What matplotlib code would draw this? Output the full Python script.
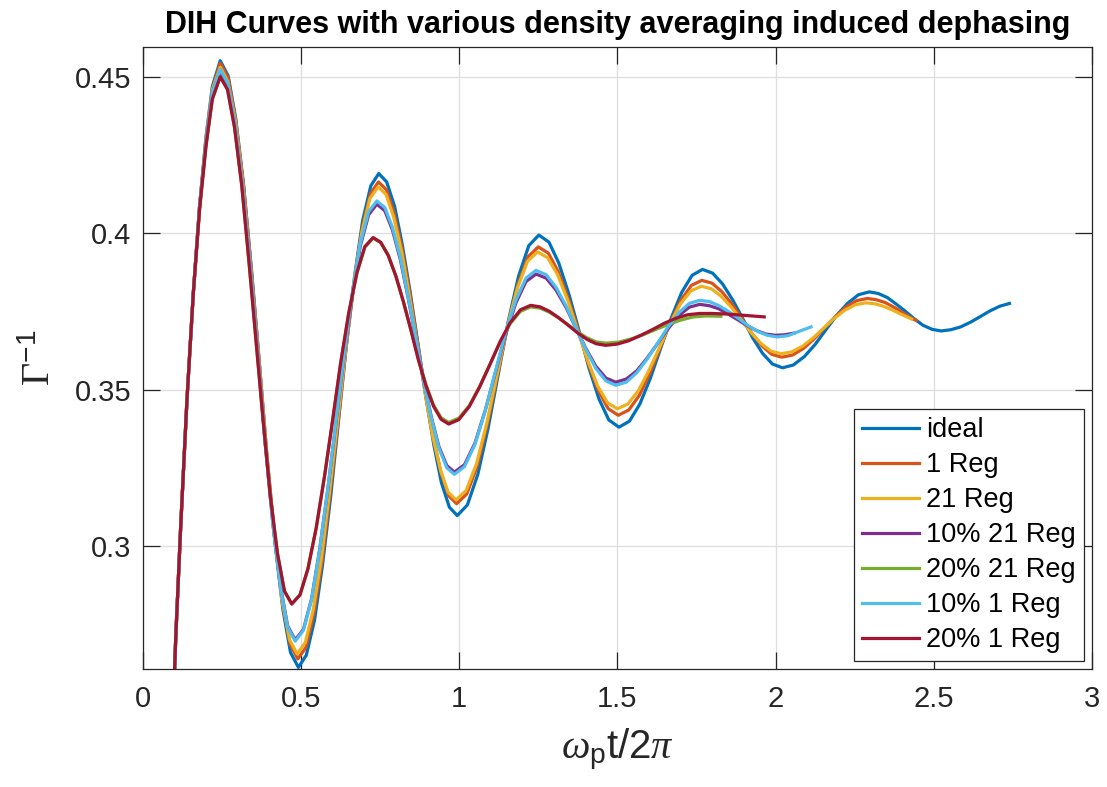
import matplotlib
matplotlib.use("Agg")
import matplotlib.pyplot as plt
from matplotlib.ticker import FuncFormatter

plt.rcParams['font.family'] = ['Liberation Sans', 'DejaVu Sans']
plt.rcParams['mathtext.fontset'] = 'custom'
plt.rcParams['mathtext.rm'] = 'Liberation Serif'
plt.rcParams['mathtext.sf'] = 'Liberation Sans'
plt.rcParams['mathtext.it'] = 'Liberation Serif:italic'

# values
ideal_x = [0.095, 0.105, 0.12, 0.14, 0.16, 0.18, 0.20, 0.22,
           0.245, 0.270, 0.294, 0.319, 0.344, 0.369, 0.393, 0.418, 0.443, 0.467, 0.492,
           0.517, 0.543, 0.568, 0.594, 0.619, 0.644, 0.670, 0.695, 0.721, 0.746,
           0.771, 0.796, 0.820, 0.845, 0.870, 0.895, 0.920, 0.944, 0.969, 0.994,
           1.026, 1.059, 1.091, 1.123, 1.155, 1.188, 1.220, 1.252,
           1.284, 1.315, 1.347, 1.379, 1.410, 1.442, 1.473, 1.505,
           1.538, 1.571, 1.604, 1.637, 1.670, 1.703, 1.736, 1.769,
           1.801, 1.832, 1.864, 1.896, 1.927, 1.959, 1.990, 2.022,
           2.056, 2.091, 2.125, 2.159, 2.193, 2.228, 2.262, 2.296,
           2.324, 2.353, 2.381, 2.410, 2.438, 2.466, 2.495, 2.523,
           2.554, 2.585, 2.616, 2.647, 2.677, 2.708, 2.739]
ideal_y = [0.245, 0.272, 0.306, 0.347, 0.381, 0.409, 0.431, 0.447,
           0.4553, 0.4505, 0.4368, 0.4153, 0.3882, 0.3582, 0.3282, 0.3011, 0.2797, 0.2659, 0.2611,
           0.2650, 0.2762, 0.2937, 0.3157, 0.3402, 0.3646, 0.3866, 0.4041, 0.4153, 0.4192,
           0.4165, 0.4087, 0.3966, 0.3814, 0.3645, 0.3475, 0.3323, 0.3202, 0.3124, 0.3097,
           0.3131, 0.3229, 0.3374, 0.3546, 0.3718, 0.3864, 0.3961, 0.3995,
           0.3972, 0.3905, 0.3805, 0.3688, 0.3570, 0.3470, 0.3403, 0.3380,
           0.3399, 0.3454, 0.3536, 0.3633, 0.3729, 0.3811, 0.3866, 0.3885,
           0.3873, 0.3839, 0.3788, 0.3728, 0.3667, 0.3616, 0.3582, 0.3570,
           0.3579, 0.3606, 0.3645, 0.3692, 0.3738, 0.3777, 0.3804, 0.3813,
           0.3808, 0.3795, 0.3774, 0.3751, 0.3727, 0.3706, 0.3693, 0.3688,
           0.3692, 0.3701, 0.3716, 0.3734, 0.3752, 0.3767, 0.3776]

reg1_x = [0.095, 0.105, 0.12, 0.14, 0.16, 0.18, 0.20, 0.22,
          0.245, 0.270, 0.294, 0.319, 0.343, 0.368, 0.392, 0.417, 0.441, 0.466, 0.490,
          0.516, 0.541, 0.567, 0.592, 0.618, 0.643, 0.669, 0.694, 0.720, 0.745,
          0.770, 0.794, 0.819, 0.844, 0.869, 0.893, 0.918, 0.943, 0.967, 0.992,
          1.024, 1.057, 1.089, 1.121, 1.153, 1.186, 1.218, 1.250,
          1.282, 1.313, 1.345, 1.377, 1.408, 1.440, 1.471, 1.503,
          1.536, 1.569, 1.602, 1.635, 1.668, 1.701, 1.734, 1.767,
          1.799, 1.830, 1.862, 1.894, 1.925, 1.957, 1.988, 2.020,
          2.054, 2.088, 2.121, 2.155, 2.189, 2.223, 2.256, 2.290,
          2.318, 2.346, 2.374, 2.403, 2.431, 2.444]
reg1_y = [0.245, 0.272, 0.306, 0.347, 0.381, 0.409, 0.430, 0.446,
          0.4545, 0.4498, 0.4363, 0.4152, 0.3886, 0.3592, 0.3297, 0.3031, 0.2820, 0.2685, 0.2638,
          0.2675, 0.2784, 0.2953, 0.3166, 0.3402, 0.3637, 0.3850, 0.4019, 0.4128, 0.4165,
          0.4140, 0.4067, 0.3953, 0.3809, 0.3650, 0.3491, 0.3347, 0.3233, 0.3160, 0.3135,
          0.3166, 0.3255, 0.3389, 0.3546, 0.3703, 0.3837, 0.3926, 0.3957,
          0.3937, 0.3878, 0.3791, 0.3688, 0.3584, 0.3497, 0.3439, 0.3418,
          0.3435, 0.3481, 0.3551, 0.3634, 0.3717, 0.3787, 0.3834, 0.3850,
          0.3841, 0.3814, 0.3774, 0.3727, 0.3680, 0.3640, 0.3613, 0.3604,
          0.3611, 0.3632, 0.3662, 0.3698, 0.3734, 0.3765, 0.3785, 0.3792,
          0.3788, 0.3779, 0.3764, 0.3746, 0.3728, 0.3722]

reg21_x = [0.095, 0.105, 0.12, 0.14, 0.16, 0.18, 0.20, 0.22,
           0.245, 0.269, 0.294, 0.318, 0.342, 0.367, 0.391, 0.415, 0.439, 0.464, 0.488,
           0.514, 0.539, 0.565, 0.590, 0.616, 0.642, 0.667, 0.693, 0.718, 0.744,
           0.769, 0.793, 0.818, 0.842, 0.867, 0.892, 0.916, 0.941, 0.965, 0.990,
           1.022, 1.055, 1.087, 1.119, 1.151, 1.184, 1.216, 1.248,
           1.280, 1.311, 1.343, 1.374, 1.406, 1.437, 1.469, 1.500,
           1.533, 1.566, 1.599, 1.633, 1.666, 1.699, 1.732, 1.765,
           1.797, 1.828, 1.860, 1.892, 1.923, 1.955, 1.986, 2.018,
           2.051, 2.085, 2.118, 2.152, 2.185, 2.218, 2.252, 2.285,
           2.313, 2.341, 2.369, 2.398, 2.430]
reg21_y = [0.245, 0.272, 0.306, 0.347, 0.381, 0.409, 0.430, 0.446,
           0.4532, 0.4486, 0.4353, 0.4145, 0.3883, 0.3593, 0.3303, 0.3041, 0.2833, 0.2700, 0.2654,
           0.2691, 0.2797, 0.2962, 0.3171, 0.3402, 0.3633, 0.3841, 0.4006, 0.4112, 0.4149,
           0.4125, 0.4053, 0.3943, 0.3803, 0.3648, 0.3493, 0.3354, 0.3243, 0.3172, 0.3147,
           0.3177, 0.3263, 0.3392, 0.3544, 0.3696, 0.3825, 0.3911, 0.3941,
           0.3922, 0.3868, 0.3786, 0.3690, 0.3594, 0.3513, 0.3458, 0.3439,
           0.3454, 0.3496, 0.3560, 0.3635, 0.3710, 0.3774, 0.3816, 0.3831,
           0.3823, 0.3799, 0.3764, 0.3723, 0.3682, 0.3647, 0.3623, 0.3615,
           0.3621, 0.3639, 0.3665, 0.3697, 0.3728, 0.3754, 0.3772, 0.3778,
           0.3775, 0.3767, 0.3755, 0.3741, 0.3726]

p10_21_x = [0.095, 0.105, 0.12, 0.14, 0.16, 0.18, 0.20, 0.22,
            0.245, 0.269, 0.292, 0.316, 0.340, 0.364, 0.387, 0.411, 0.435, 0.458, 0.482,
            0.508, 0.534, 0.559, 0.585, 0.611, 0.637, 0.663, 0.688, 0.714, 0.740,
            0.765, 0.789, 0.814, 0.838, 0.863, 0.887, 0.912, 0.936, 0.961, 0.985,
            1.017, 1.050, 1.082, 1.114, 1.146, 1.179, 1.211, 1.243,
            1.275, 1.306, 1.338, 1.369, 1.401, 1.432, 1.464, 1.495,
            1.528, 1.561, 1.594, 1.628, 1.661, 1.694, 1.727, 1.760,
            1.790, 1.820, 1.850, 1.880, 1.910, 1.940, 1.970, 2.000,
            2.030, 2.058]
p10_21_y = [0.245, 0.272, 0.306, 0.347, 0.381, 0.409, 0.429, 0.445,
            0.4521, 0.4476, 0.4347, 0.4146, 0.3892, 0.3610, 0.3329, 0.3075, 0.2873, 0.2744, 0.2699,
            0.2733, 0.2832, 0.2987, 0.3181, 0.3397, 0.3612, 0.3807, 0.3961, 0.4060, 0.4094,
            0.4073, 0.4012, 0.3917, 0.3798, 0.3665, 0.3532, 0.3413, 0.3318, 0.3257, 0.3236,
            0.3260, 0.3329, 0.3432, 0.3553, 0.3674, 0.3777, 0.3846, 0.3870,
            0.3857, 0.3819, 0.3763, 0.3697, 0.3631, 0.3575, 0.3537, 0.3524,
            0.3534, 0.3560, 0.3601, 0.3649, 0.3696, 0.3737, 0.3764, 0.3773,
            0.3769, 0.3759, 0.3742, 0.3724, 0.3705, 0.3689, 0.3678, 0.3674,
            0.3676, 0.3681]

p20_21_x = [0.095, 0.105, 0.12, 0.14, 0.16, 0.18, 0.20, 0.22,
            0.245, 0.268, 0.290, 0.313, 0.335, 0.358, 0.381, 0.403, 0.426, 0.448, 0.471,
            0.497, 0.522, 0.548, 0.574, 0.600, 0.625, 0.651, 0.677, 0.702, 0.728,
            0.752, 0.776, 0.800, 0.824, 0.848, 0.871, 0.895, 0.919, 0.943, 0.967,
            0.999, 1.032, 1.064, 1.097, 1.129, 1.161, 1.194, 1.226,
            1.256, 1.285, 1.315, 1.345, 1.374, 1.404, 1.433, 1.463,
            1.503, 1.542, 1.582, 1.622, 1.661, 1.701, 1.740, 1.780, 1.827]
p20_21_y = [0.245, 0.272, 0.306, 0.347, 0.381, 0.408, 0.428, 0.443,
            0.4502, 0.4461, 0.4341, 0.4154, 0.3919, 0.3658, 0.3397, 0.3162, 0.2975, 0.2855, 0.2814,
            0.2843, 0.2926, 0.3055, 0.3219, 0.3400, 0.3580, 0.3744, 0.3873, 0.3956, 0.3985,
            0.3971, 0.3929, 0.3863, 0.3781, 0.3690, 0.3599, 0.3517, 0.3451, 0.3410, 0.3395,
            0.3409, 0.3449, 0.3509, 0.3580, 0.3651, 0.3711, 0.3751, 0.3765,
            0.3761, 0.3748, 0.3729, 0.3707, 0.3685, 0.3666, 0.3653, 0.3649,
            0.3652, 0.3662, 0.3676, 0.3693, 0.3709, 0.3723, 0.3733, 0.3736, 0.3735]

p10_1_x = [0.095, 0.105, 0.12, 0.14, 0.16, 0.18, 0.20, 0.22,
           0.245, 0.269, 0.292, 0.316, 0.340, 0.364, 0.387, 0.411, 0.435, 0.458, 0.482,
           0.508, 0.534, 0.559, 0.585, 0.611, 0.637, 0.663, 0.688, 0.714, 0.740,
           0.765, 0.789, 0.814, 0.838, 0.863, 0.887, 0.912, 0.936, 0.961, 0.985,
           1.017, 1.050, 1.082, 1.114, 1.146, 1.179, 1.211, 1.243,
           1.275, 1.306, 1.338, 1.369, 1.401, 1.432, 1.464, 1.495,
           1.528, 1.561, 1.594, 1.628, 1.661, 1.694, 1.727, 1.760,
           1.791, 1.821, 1.852, 1.883, 1.913, 1.944, 1.974, 2.005,
           2.040, 2.075, 2.112]
p10_1_y = [0.245, 0.272, 0.306, 0.347, 0.381, 0.409, 0.429, 0.445,
           0.4525, 0.4480, 0.4350, 0.4148, 0.3893, 0.3610, 0.3327, 0.3072, 0.2870, 0.2740, 0.2695,
           0.2730, 0.2830, 0.2985, 0.3182, 0.3400, 0.3617, 0.3814, 0.3969, 0.4070, 0.4104,
           0.4083, 0.4020, 0.3924, 0.3802, 0.3667, 0.3531, 0.3409, 0.3313, 0.3250, 0.3229,
           0.3254, 0.3325, 0.3431, 0.3556, 0.3680, 0.3786, 0.3857, 0.3882,
           0.3868, 0.3828, 0.3768, 0.3698, 0.3628, 0.3568, 0.3528, 0.3514,
           0.3524, 0.3554, 0.3598, 0.3650, 0.3702, 0.3746, 0.3776, 0.3786,
           0.3782, 0.3769, 0.3750, 0.3728, 0.3705, 0.3686, 0.3674, 0.3669,
           0.3673, 0.3687, 0.3701]

p20_1_x = p20_21_x[:55] + [1.500, 1.537, 1.574, 1.612, 1.649, 1.686, 1.723, 1.760,
                           1.800, 1.850, 1.900, 1.964]
p20_1_y = [0.245, 0.272, 0.306, 0.347, 0.381, 0.408, 0.428, 0.443,
           0.4502, 0.4461, 0.4341, 0.4154, 0.3919, 0.3658, 0.3397, 0.3162, 0.2975, 0.2855, 0.2814,
           0.2843, 0.2926, 0.3056, 0.3219, 0.3401, 0.3582, 0.3745, 0.3875, 0.3958, 0.3987,
           0.3972, 0.3930, 0.3864, 0.3781, 0.3689, 0.3596, 0.3513, 0.3447, 0.3405, 0.3390,
           0.3404, 0.3446, 0.3507, 0.3580, 0.3653, 0.3714, 0.3756, 0.3770,
           0.3765, 0.3751, 0.3730, 0.3706, 0.3682, 0.3661, 0.3647, 0.3642,
           0.3646, 0.3657, 0.3674, 0.3693, 0.3713, 0.3729, 0.3740, 0.3744,
           0.3744, 0.3742, 0.3738, 0.3733]

labels = ['ideal', '1 Reg', '21 Reg', '10% 21 Reg', '20% 21 Reg', '10% 1 Reg', '20% 1 Reg']
series = [(ideal_x, ideal_y), (reg1_x, reg1_y), (reg21_x, reg21_y), (p10_21_x, p10_21_y),
          (p20_21_x, p20_21_y), (p10_1_x, p10_1_y), (p20_1_x, p20_1_y)]
colors = ['#0072BD', '#D95319', '#EDB120', '#7E2F8E', '#77AC30', '#4DBEEE', '#A2142F']

fig = plt.figure(figsize=(11.07, 7.87), dpi=100)
ax = fig.add_axes([0.1289, 0.1496, 0.8576, 0.7903])

for (xs, ys), lab, c in zip(series, labels, colors):
    ax.plot(xs, ys, color=c, lw=2.3, label=lab, solid_joinstyle='round')

ax.set_xlim(0, 3)
ax.set_ylim(0.2605, 0.4596)
ax.set_xticks([0, 0.5, 1, 1.5, 2, 2.5, 3])
ax.set_yticks([0.3, 0.35, 0.4, 0.45])
fmt = FuncFormatter(lambda v, p: '%g' % v)
ax.xaxis.set_major_formatter(fmt)
ax.yaxis.set_major_formatter(fmt)

ax.grid(True, color='#dedede', lw=0.9)
ax.set_axisbelow(True)
ax.tick_params(direction='in', top=True, right=True, length=12, width=0.9,
               color='#262626', labelcolor='#262626', labelsize=21)
ax.tick_params(axis='x', pad=11)
ax.tick_params(axis='y', pad=8)
for s in ax.spines.values():
    s.set_color('#262626')
    s.set_linewidth(0.9)

ax.set_title('DIH Curves with various density averaging induced dephasing',
             fontsize=22, fontweight='bold', pad=10)
ax.set_xlabel(r'$\omega_{\mathsf{p}}\mathsf{t/2}\pi$', fontsize=29, color='#262626', labelpad=10)
ax.set_ylabel(r'$\Gamma^{\mathsf{-1}}$', fontsize=29, color='#262626', labelpad=12)

leg = ax.legend(loc='lower right', bbox_to_anchor=(1, 0), borderaxespad=0.3,
                fontsize=19.5, frameon=True, fancybox=False, framealpha=1,
                handlelength=2.1, handletextpad=0.25, labelspacing=0.33,
                borderpad=0.3)
leg.get_frame().set_edgecolor('#262626')
leg.get_frame().set_linewidth(0.9)

fig.savefig('out.png', dpi=100)
